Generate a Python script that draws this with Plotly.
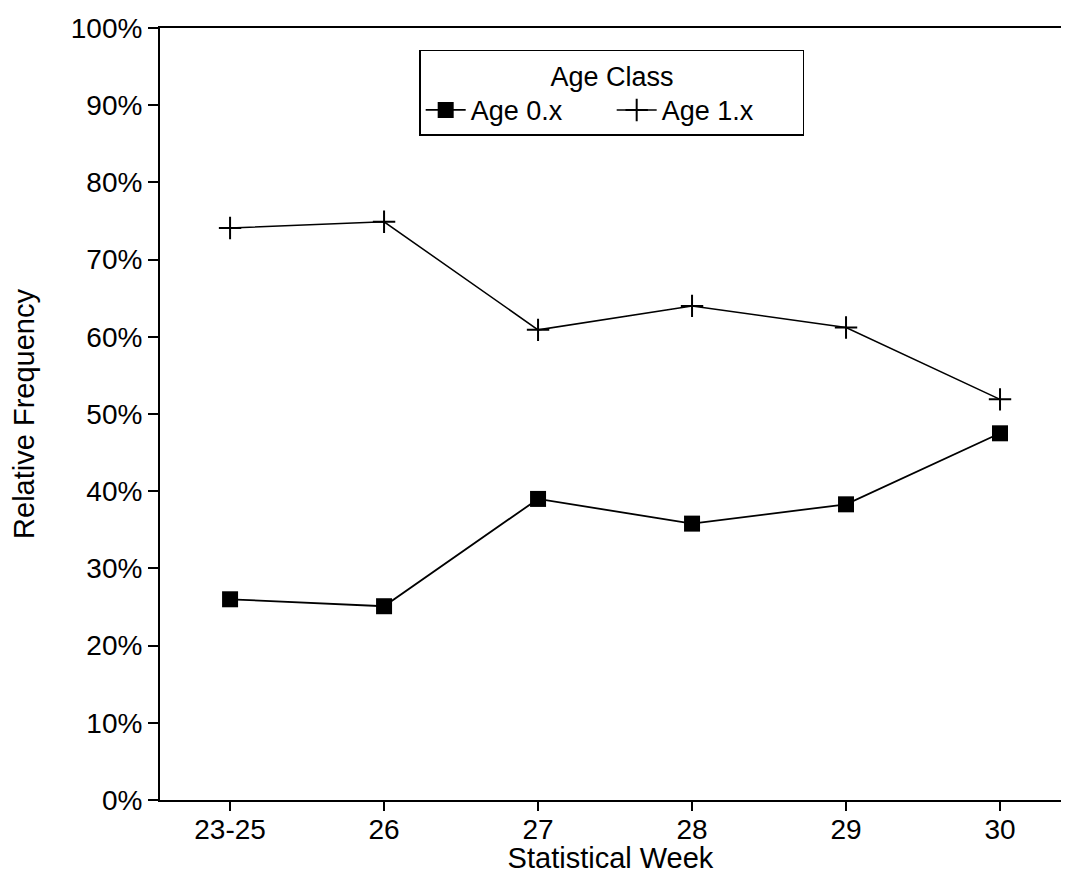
import plotly.graph_objects as go

weeks = ["23-25", "26", "27", "28", "29", "30"]
age0 = [26.0, 25.1, 39.0, 35.8, 38.3, 47.5]
age1 = [74.1, 74.9, 60.9, 64.0, 61.2, 51.9]
yticks = [0, 10, 20, 30, 40, 50, 60, 70, 80, 90, 100]
ytick_labels = ["0%", "10%", "20%", "30%", "40%", "50%", "60%", "70%", "80%", "90%", "100%"]

font_family = "Liberation Sans, Arial, Helvetica, sans-serif"

fig = go.Figure()
fig.add_trace(go.Scatter(
    x=weeks, y=age0, name="Age 0.x", mode="lines+markers",
    line=dict(color="black", width=1.8),
    marker=dict(symbol="square", size=16, color="black"),
))
fig.add_trace(go.Scatter(
    x=weeks, y=age1, name="Age 1.x", mode="lines+markers",
    line=dict(color="black", width=1.5),
    marker=dict(symbol="cross-thin", size=16, color="black",
                line=dict(color="black", width=2)),
))

# page body has an 8px margin, so the figure is drawn 8px in from the top-left
fig.update_layout(
    width=1053, height=866,
    margin=dict(l=152, r=0, t=20, b=74, autoexpand=False),
    paper_bgcolor="white", plot_bgcolor="white",
    font=dict(family=font_family, size=28, color="black"),
    showlegend=True,
    legend=dict(
        orientation="h",
        x=0.288, y=0.972, xanchor="left", yanchor="top",
        bordercolor="black", borderwidth=1.2, bgcolor="white",
        font=dict(size=27),
        title=dict(text="Age Class", side="top center", font=dict(size=27)),
        itemwidth=40, tracegroupgap=0,
        entrywidth=136, entrywidthmode="pixels",
    ),
    xaxis=dict(
        type="category", range=[-0.455, 5.396],
        showline=True, linecolor="black", linewidth=2, mirror=True,
        ticks="outside", ticklen=9, tickwidth=1.5, tickcolor="black",
        ticklabelstandoff=-6,
        showgrid=False, zeroline=False, automargin=True,
        title=dict(text="Statistical Week", standoff=10, font=dict(size=29)),
    ),
    yaxis=dict(
        range=[0, 100], tickmode="array", tickvals=yticks, ticktext=ytick_labels,
        showline=True, linecolor="black", linewidth=2,
        ticks="outside", ticklen=10, tickwidth=1.5, tickcolor="black",
        showgrid=False, zeroline=False, automargin=True,
        title=dict(text="Relative Frequency", standoff=34, font=dict(size=29)),
    ),
)

fig.write_html("out.html")
